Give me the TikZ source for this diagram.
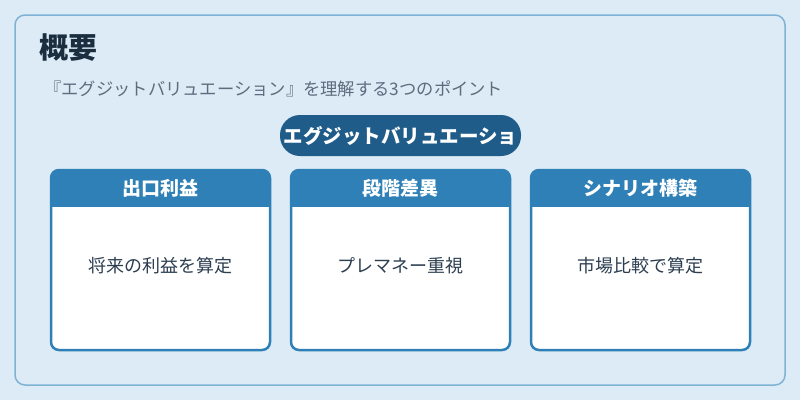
\documentclass[tikz,border=0pt]{standalone}
\usepackage{fontspec}
\setmainfont{Noto Sans CJK JP}
\usetikzlibrary{calc}
\definecolor{bgblue}{HTML}{DCEBF6}
\definecolor{frameblue}{HTML}{7FB3D5}
\definecolor{headblue}{HTML}{2E80B6}
\definecolor{pillblue}{HTML}{1F5C89}
\definecolor{titleink}{HTML}{1B2E3F}
\definecolor{subink}{HTML}{5D6D7E}
\definecolor{bodyink}{HTML}{2C3E50}
\tikzset{
  headtext/.style={inner sep=0, text=white, font=\bfseries\fontsize{19}{21}\selectfont},
  bodytext/.style={inner sep=0, text=bodyink, font=\fontsize{18}{20}\selectfont},
  pillbox/.style={fill=pillblue, rounded corners=20, minimum width=241, minimum height=41,
    inner sep=0, text=white, font=\bfseries\fontsize{19.5}{21}\selectfont}
}
% #1 left x, #2 name, #3 header, #4 body text
\newcommand{\card}[4]{
  \fill[white, rounded corners=8] (#1,170) rectangle ++(219,180);
  \begin{scope}
    \clip[rounded corners=8] (#1,170) rectangle ++(219,180);
    \fill[headblue] (#1,170) rectangle ++(219,37);
  \end{scope}
  \draw[headblue, line width=2.5, rounded corners=8] (#1,170) rectangle ++(219,180);
  \node[headtext] (#2head) at ($(#1,188.5)+(109.5,0)$) {#3};
  \node[bodytext] (#2body) at ($(#1,266)+(109.5,0)$) {#4};
}

\begin{document}
\begin{tikzpicture}[x=1pt, y=-1pt]
    \useasboundingbox (0,0) rectangle (800,400);
    % background and frame
    \fill[bgblue] (0,0) rectangle (800,400);
    \draw[frameblue, line width=1.5, rounded corners=10] (15,15) rectangle (785,385);
    % title
    \node[anchor=west, inner sep=0, text=titleink, font=\bfseries\fontsize{29}{32}\selectfont] (title) at (39,47.5) {概要};
    \node[anchor=west, inner sep=0, text=subink, font=\fontsize{17.3}{19}\selectfont] (subtitle) at (44,88.5) {『エグジットバリュエーション』を理解する3つのポイント};
    % pill
    \node[pillbox] (pill) at (400.5,135.5) {エグジットバリュエーショ};
    % cards
    \card{51}{exit}{出口利益}{将来の利益を算定}
    \card{291}{stage}{段階差異}{プレマネー重視}
    \card{531}{scen}{シナリオ構築}{市場比較で算定}
\end{tikzpicture}
\end{document}
